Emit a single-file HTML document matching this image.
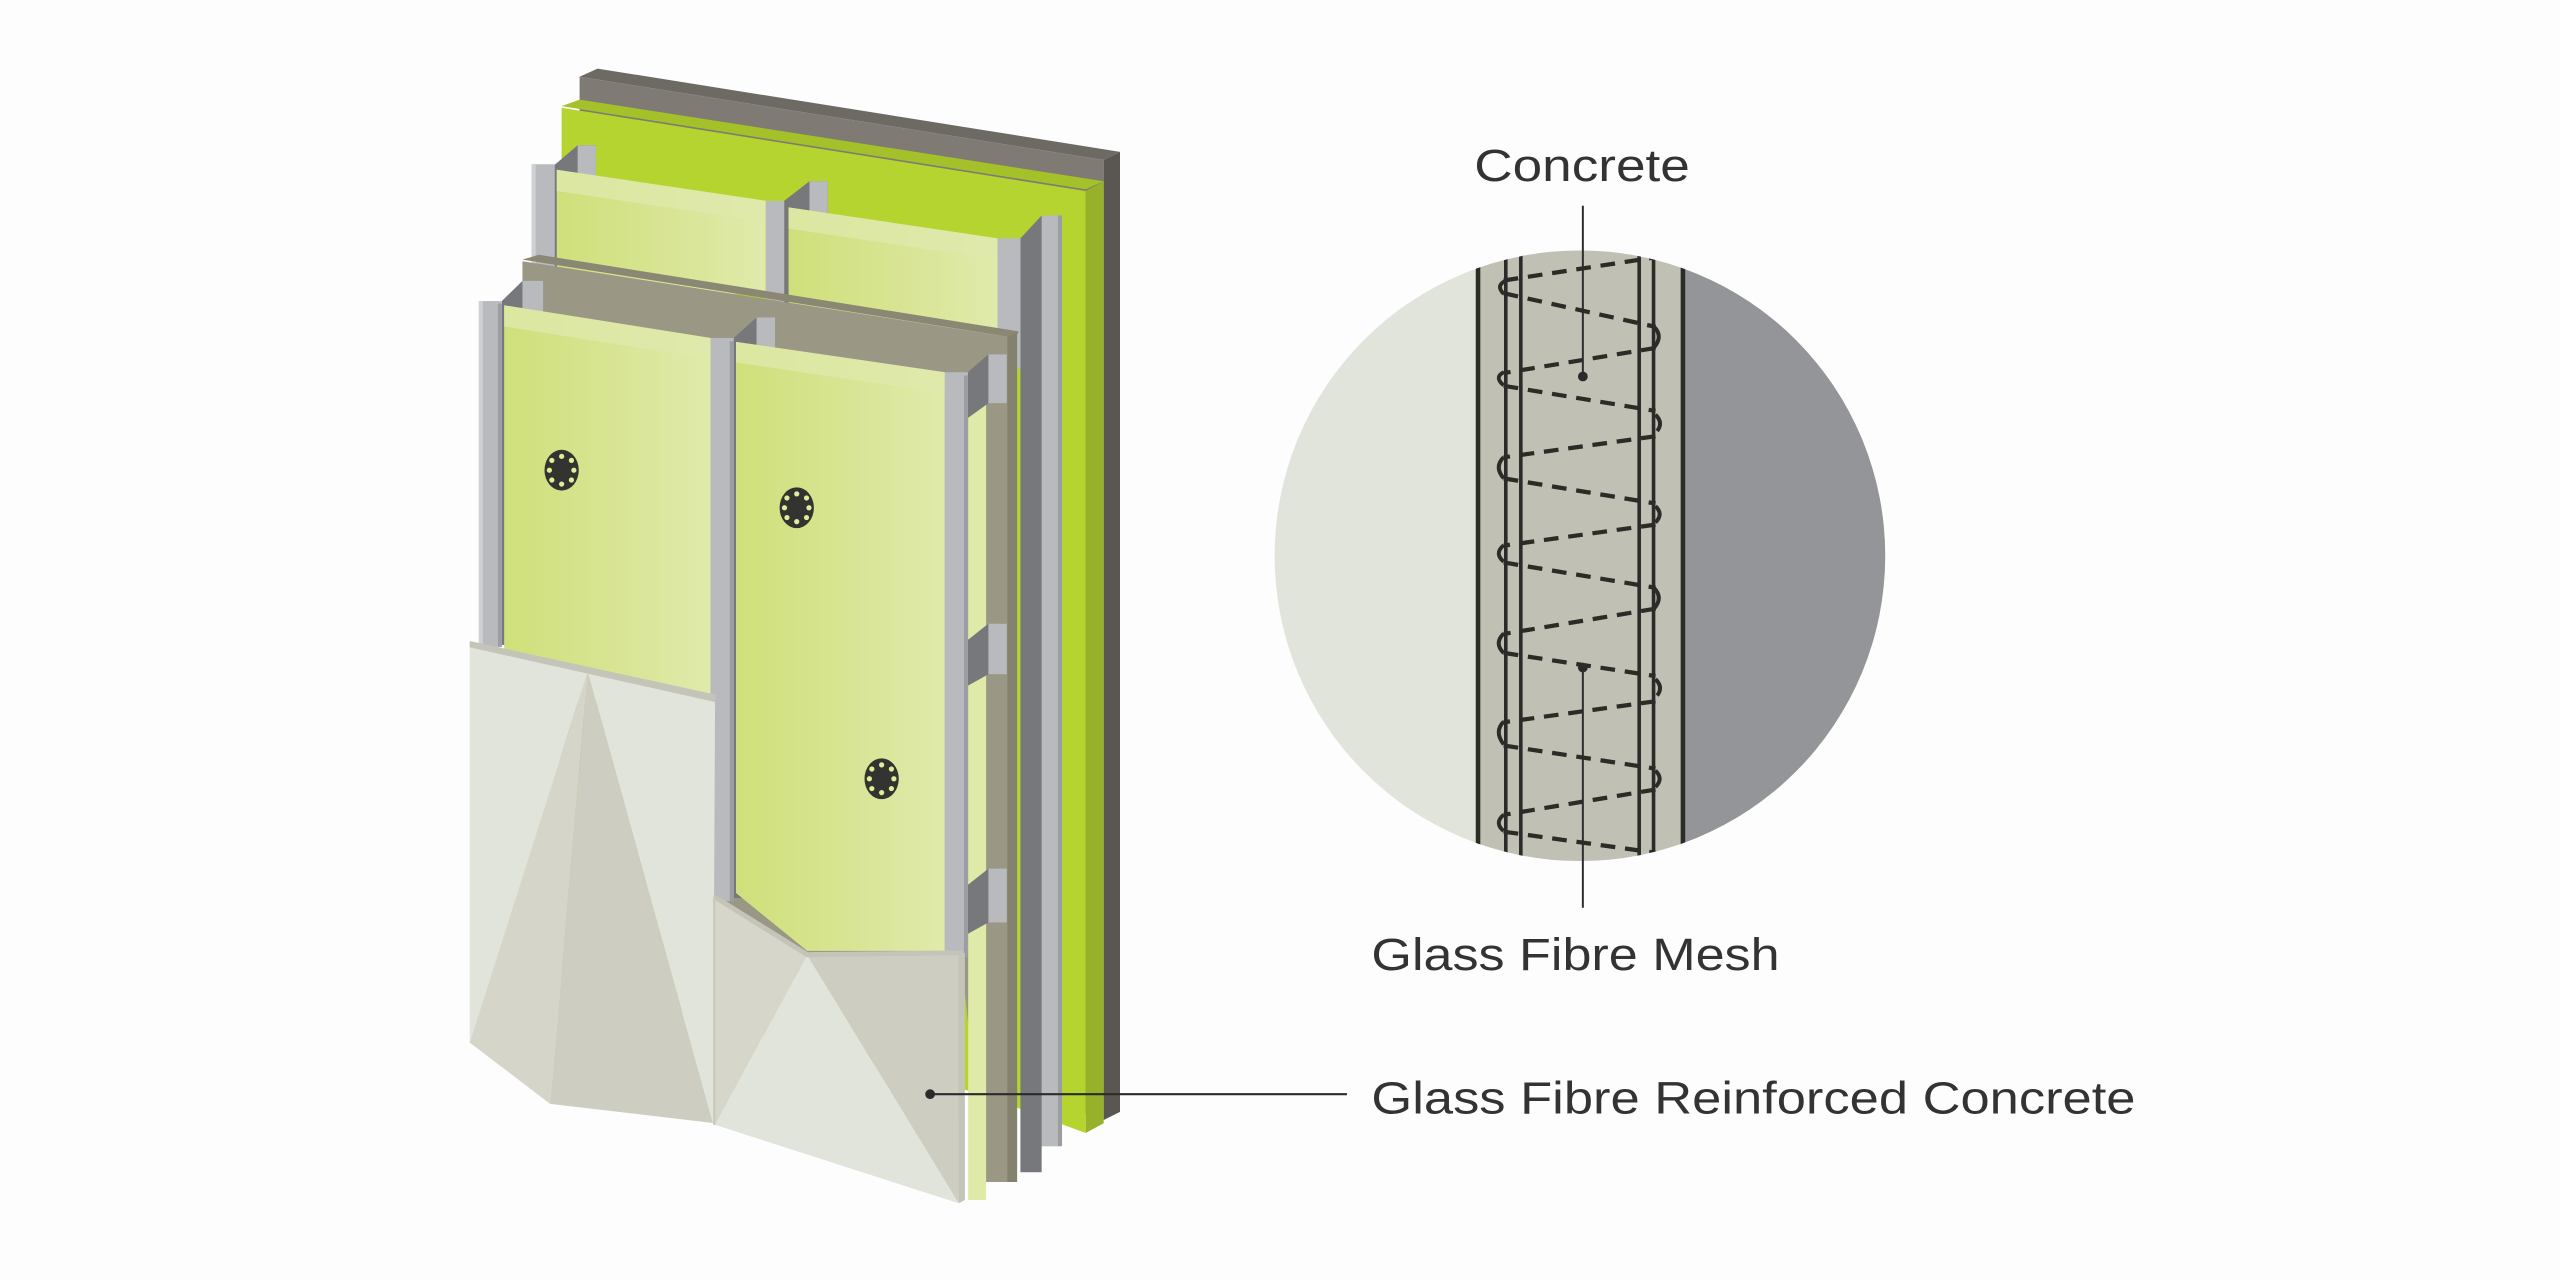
<!DOCTYPE html>
<html><head><meta charset="utf-8"><style>
html,body{margin:0;padding:0;background:#fdfdfd;}
svg{display:block;}
</style></head><body>
<svg width="2560" height="1280" viewBox="0 0 1568 784" preserveAspectRatio="none" xmlns="http://www.w3.org/2000/svg">
<defs>
<linearGradient id="bd" x1="0" x2="1" y1="0" y2="0">
<stop offset="0" stop-color="#cfe07a"/><stop offset="0.6" stop-color="#d9e597"/><stop offset="1" stop-color="#e0eaab"/>
</linearGradient>
<clipPath id="cc"><circle cx="967.7" cy="340.4" r="187"/></clipPath>
<g id="fast">
<ellipse cx="0" cy="0" rx="10.5" ry="12.5" fill="#333330"/>
<g fill="#e4ec9a">
<circle cx="0" cy="-8.5" r="1.6"/><circle cx="6" cy="-6" r="1.6"/><circle cx="7.5" cy="0" r="1.6"/><circle cx="6" cy="6" r="1.6"/>
<circle cx="0" cy="8.5" r="1.6"/><circle cx="-6" cy="6" r="1.6"/><circle cx="-7.5" cy="0" r="1.6"/><circle cx="-6" cy="-6" r="1.6"/>
</g>
</g>
</defs>
<rect width="1568" height="784" fill="#fdfdfd"/>

<!-- back gray panel -->
<polygon points="355,47 366,42 686,93 676,98" fill="#6d6a64"/>
<polygon points="355,47 676,98 676,686 600,660 355,600" fill="#7f7b74"/>
<polygon points="676,98 686,93 686,681 676,686" fill="#5a5752"/>
<!-- green panel -->
<polygon points="344,65 355,61 676,111 665,116" fill="#a4c12a"/>
<polygon points="344,66 665,117 665,694 600,670 344,600" fill="#b5d430"/>
<polygon points="665,117 676,111 676,688 665,694" fill="#97b22a"/>

<!-- right stack -->
<polygon points="625,146 638,132 650,132 650,702 638,702 638,718 625,718" fill="#77787c"/>
<polygon points="638,132 650,132 650,702 638,702" fill="#b9babe"/>
<rect x="648" y="132" width="2.5" height="570" fill="#9c9da1"/>
<polygon points="611,146 625,146 625,200 611,200" fill="#b9babe"/>

<!-- upper rails and boards -->
<polygon points="339.7,101 353.8,89 365,89 365,175 339.7,175" fill="#77787c"/>
<rect x="353.8" y="89" width="11.2" height="86" fill="#b9babe"/>
<polygon points="341,104 469,123 469,180 341,180" fill="url(#bd)"/>
<polygon points="341,104 469,123 469,136 341,117" fill="#dfe9ab" opacity="0.8"/>
<rect x="325.6" y="100.6" width="14.1" height="80" fill="#b9babe"/>
<rect x="325.6" y="100.6" width="2.5" height="80" fill="#cfd0d3"/>

<polygon points="480.3,123 495.8,111 507,111 507,190 480.3,190" fill="#77787c"/>
<rect x="495.8" y="111" width="11.2" height="80" fill="#b9babe"/>
<polygon points="483,127 611,146 611,205 483,205" fill="url(#bd)"/>
<polygon points="483,127 611,146 611,159 483,140" fill="#dfe9ab" opacity="0.8"/>
<rect x="469" y="123" width="11.3" height="70" fill="#b9babe"/>
<rect x="611" y="146" width="14" height="80" fill="#b9babe"/>

<!-- olive panel -->
<polygon points="320,159 330,156 624,203 622,207" fill="#8a8874"/>
<polygon points="320,160 622,207 622,724 604,724 590,600 438,600 320,430" fill="#9a9884"/>
<polygon points="617,206 623,204 623,724 617,724" fill="#84826e"/>
<rect x="593" y="240" width="11" height="495" fill="#dfe9a8"/>

<!-- front rails webs -->
<polygon points="307.4,184.4 320,172 332.7,172 332.7,395 307.4,395" fill="#77787c"/>
<rect x="320" y="172" width="12.7" height="30" fill="#b9babe"/>
<polygon points="449.4,207 463.4,194.4 474.7,194.4 474.7,550 449.4,550" fill="#77787c"/>
<rect x="463.4" y="194.4" width="11.3" height="30" fill="#b9babe"/>

<!-- brackets -->
<g>
<polygon points="592.8,228 605.4,217 616.7,217 616.7,247 605.4,247 592.8,256" fill="#77787c"/>
<rect x="605.4" y="217" width="11.3" height="30" fill="#b9babe"/>
<polygon points="592.8,392 605.4,382 616.7,382 616.7,413 605.4,413 592.8,420" fill="#77787c"/>
<rect x="605.4" y="382" width="11.3" height="31" fill="#b9babe"/>
<polygon points="592.8,542 605.4,532 616.7,532 616.7,565 605.4,565 592.8,572" fill="#77787c"/>
<rect x="605.4" y="532" width="11.3" height="33" fill="#b9babe"/>
</g>

<!-- front boards -->
<polygon points="308.8,187 435.3,207 435.3,430 308.8,430" fill="url(#bd)"/>
<polygon points="308.8,187 435.3,207 435.3,220 308.8,200" fill="#dfe9ab" opacity="0.8"/>
<polygon points="450.8,209.4 578.7,228 578.7,582.4 494.4,582.4 450.8,547" fill="url(#bd)"/>
<polygon points="450.8,209.4 578.7,228 578.7,241 450.8,222" fill="#dfe9ab" opacity="0.8"/>

<!-- front rails flanges -->
<rect x="293.3" y="184.4" width="14.1" height="212" fill="#b9babe"/>
<rect x="293.3" y="184.4" width="2.5" height="212" fill="#cfd0d3"/>
<rect x="305" y="186" width="2.4" height="210" fill="#9c9da1"/>
<rect x="435.3" y="207" width="14.1" height="345" fill="#b9babe"/>
<rect x="447" y="209" width="2.4" height="343" fill="#9c9da1"/>
<rect x="578.7" y="228" width="14.1" height="358" fill="#b9babe"/>
<rect x="590.4" y="230" width="2.4" height="356" fill="#9c9da1"/>

<!-- fasteners -->
<use href="#fast" x="344" y="288"/>
<use href="#fast" x="488" y="311"/>
<use href="#fast" x="540" y="477"/>

<!-- left GFRC panel -->
<polygon points="287.7,392.6 360,411.3 287.7,638.6" fill="#e1e4da"/>
<polygon points="360,411.3 287.7,638.6 336.9,676.1" fill="#d5d6c9"/>
<polygon points="360,411.3 336.9,676.1 436.7,687.8" fill="#cdcdc1"/>
<polygon points="360,411.3 436.7,687.8 438,425.4" fill="#e1e4da"/>
<polygon points="287.7,392.6 438,425.4 438,430 287.7,396.5" fill="#c4c5b8"/>

<!-- right GFRC panel -->
<polygon points="438.1,549.6 494.4,584.7 438.1,689" fill="#d6d7ca"/>
<polygon points="494.4,584.7 438.1,689 587.2,737" fill="#e1e4da"/>
<polygon points="494.4,584.7 587.2,737 590,583.6" fill="#cdcdc1"/>
<polygon points="587,583.6 591,583.6 591,735 587.2,737" fill="#c4c5b8"/>
<polyline points="438.1,549.6 494.4,584.7 590,583.6" fill="none" stroke="#c4c5b8" stroke-width="3"/>
<line x1="437.5" y1="549" x2="437.5" y2="689" stroke="#c9cabe" stroke-width="1.5"/>

<!-- GFRC leader -->
<circle cx="569.7" cy="670.2" r="3" fill="#2b2b2b"/>
<line x1="569.7" y1="670.2" x2="825" y2="670.2" stroke="#2b2b2b" stroke-width="1.3"/>

<!-- detail circle -->
<g clip-path="url(#cc)">
<rect x="770" y="150" width="400" height="390" fill="#e1e4da"/>
<rect x="905" y="150" width="126" height="390" fill="#c0c0b4"/>
<rect x="1031" y="150" width="140" height="390" fill="#949598"/>
<g stroke="#2b2b28" stroke-width="2.2">
<line x1="905.3" y1="150" x2="905.3" y2="540" stroke-width="2.8"/>
<line x1="922.3" y1="150" x2="922.3" y2="540"/>
<line x1="931.5" y1="150" x2="931.5" y2="540"/>
<line x1="1004" y1="150" x2="1004" y2="540"/>
<line x1="1012.8" y1="150" x2="1012.8" y2="540"/>
<line x1="1030.8" y1="150" x2="1030.8" y2="540" stroke-width="2.8"/>
</g>
<g stroke="#2b2b28" stroke-width="2.6" stroke-dasharray="9 6" fill="none">
<line x1="921" y1="171.8" x2="1014" y2="157.6"/>
<line x1="921" y1="179.6" x2="1014" y2="200.2"/>
<line x1="1014" y1="213.1" x2="921" y2="228.5"/>
<line x1="921" y1="236.3" x2="1014" y2="251.7"/>
<line x1="1014" y1="267.2" x2="921" y2="280.1"/>
<line x1="921" y1="293" x2="1014" y2="308.4"/>
<line x1="1014" y1="321.3" x2="921" y2="334.2"/>
<line x1="921" y1="344.5" x2="1014" y2="360"/>
<line x1="1014" y1="372.8" x2="921" y2="388.3"/>
<line x1="921" y1="399.9" x2="1014" y2="414.1"/>
<line x1="1014" y1="429.5" x2="921" y2="442.4"/>
<line x1="921" y1="456.6" x2="1014" y2="470.8"/>
<line x1="1014" y1="483.6" x2="921" y2="499.1"/>
<line x1="921" y1="509.4" x2="1014" y2="522.3"/>
</g>
<g stroke="#2b2b28" stroke-width="2.4" fill="none">
<path d="M1013,200 q6,6 0,13"/>
<path d="M1014,254 q5,5 1,10"/>
<path d="M1014,310 q5,5 0,10"/>
<path d="M1013,360 q6,6 0,13"/>
<path d="M1014,416 q5,5 1,10"/>
<path d="M1014,472 q5,5 0,10"/>
<path d="M922,172 q-6,3 -1,8"/>
<path d="M921,228 q-6,3 0,8"/>
<path d="M921,280 q-6,6 0,13"/>
<path d="M921,334 q-6,5 0,10"/>
<path d="M921,388 q-6,6 0,12"/>
<path d="M921,442 q-6,6 0,14"/>
<path d="M921,499 q-6,5 0,10"/>
</g>
</g>

<!-- circle leaders -->
<line x1="969.5" y1="126" x2="969.5" y2="230.6" stroke="#2b2b2b" stroke-width="1.2"/>
<circle cx="969.5" cy="230.6" r="3" fill="#2b2b2b"/>
<line x1="969.5" y1="408.9" x2="969.5" y2="556" stroke="#2b2b2b" stroke-width="1.2"/>
<circle cx="969.5" cy="408.9" r="3" fill="#2b2b2b"/>

<g font-family="'Liberation Sans', Arial, sans-serif" font-size="28" fill="#333333">
<text x="903" y="111" textLength="132" lengthAdjust="spacingAndGlyphs">Concrete</text>
<text x="840" y="594" textLength="250" lengthAdjust="spacingAndGlyphs">Glass Fibre Mesh</text>
<text x="840" y="682" textLength="468" lengthAdjust="spacingAndGlyphs">Glass Fibre Reinforced Concrete</text>
</g>
</svg>
</body></html>
